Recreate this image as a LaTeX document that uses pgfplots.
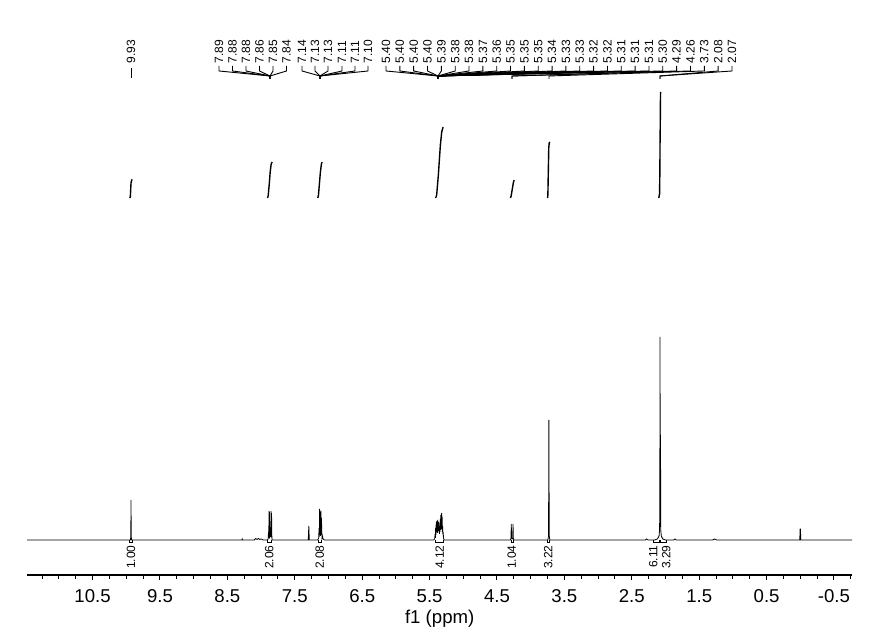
\documentclass[border=0pt]{standalone}
\usepackage{fontspec}
\setmainfont{Liberation Sans}
\usepackage{pgfplots}
\pgfplotsset{compat=1.18}
\tikzset{
  pk/.style={rotate=90, anchor=west, inner sep=0pt, font=\fontsize{6}{7}\selectfont},
  ig/.style={rotate=90, anchor=east, inner sep=0pt, font=\fontsize{6}{7}\selectfont},
  conn/.style={black, line width=0.45pt},
}
\begin{document}
\begin{tikzpicture}
\begin{axis}[
  scale only axis,
  width=412.5pt, height=287.5pt,
  x dir=reverse,
  xmin=-0.77, xmax=11.47,
  ymin=-35, ymax=540,
  axis x line=bottom, axis y line=none,
  x axis line style={-, line width=0.75pt},
  xtick={-0.5,0.5,...,10.5},
  minor xtick={-0.75,-0.5,...,11.25},
  tick align=outside,
  major tick length=2.6pt, minor tick length=2pt,
  tick style={black, line width=0.5pt},
  /pgf/number format/assume math mode=true,
  /pgf/number format/fixed, /pgf/number format/precision=1,
  ticklabel style={font=\fontsize{9.3}{10}\selectfont, yshift=-1pt},
  xlabel={f1 (ppm)},
  xlabel style={font=\fontsize{9.3}{10}\selectfont, yshift=3pt},
  ytick=\empty,
  clip=false,
]
% page extent
\path (axis cs:11.874,540) rectangle (axis cs:-1.168,-90);

% spectrum
\addplot[black, line width=0.4pt] coordinates {
(11.47,0) (10.00,0)
(9.940,0) (9.933,3) (9.930,40) (9.927,3) (9.920,0)
(8.40,0) (8.285,0) (8.280,1) (8.275,0)
(8.10,0) (8.08,1.5) (8.06,0.5) (8.04,1.5) (8.02,0.5) (8.00,1) (7.97,0)
(7.910,0) (7.895,1) (7.890,8) (7.886,2) (7.882,29) (7.879,6) (7.876,28) (7.870,3)
(7.864,4) (7.860,10) (7.856,3) (7.852,29) (7.849,6) (7.845,27) (7.840,2) (7.835,0)
(7.300,0) (7.292,14) (7.285,0)
(7.160,0) (7.145,2) (7.140,12) (7.136,3) (7.132,31) (7.128,5) (7.124,28) (7.118,4)
(7.112,29) (7.108,5) (7.104,22) (7.100,9) (7.096,2) (7.090,4) (7.080,1) (7.060,0)
(5.440,0) (5.425,1) (5.418,6) (5.414,2) (5.410,12) (5.406,5) (5.402,17) (5.398,8)
(5.395,19) (5.391,9) (5.388,16) (5.384,7) (5.380,20) (5.376,10) (5.372,15) (5.368,9)
(5.365,18) (5.361,8) (5.358,14) (5.354,6) (5.350,13) (5.346,8) (5.342,21) (5.338,10)
(5.335,25) (5.331,11) (5.328,19) (5.324,12) (5.321,27) (5.317,10) (5.314,23) (5.310,8)
(5.306,14) (5.302,5) (5.298,8) (5.294,2) (5.285,0)
(4.300,0) (4.292,2) (4.288,16) (4.284,2) (4.275,1) (4.266,2) (4.262,16) (4.258,2) (4.250,0)
(3.745,0) (3.735,4) (3.730,120) (3.725,4) (3.715,0)
(2.30,0) (2.28,1) (2.26,0)
(2.160,0) (2.120,1) (2.095,4) (2.088,10) (2.084,30) (2.081,203) (2.078,40) (2.074,105)
(2.070,10) (2.062,4) (2.040,1) (2.000,0)
(1.88,0) (1.86,1) (1.84,0)
(1.30,0) (1.27,1) (1.24,0)
(0.008,0) (0.002,11) (-0.002,11) (-0.008,0)
(-0.77,0)
};

% integral curves
\addplot[black, line width=0.7pt] coordinates {(9.950,342) (9.940,343) (9.935,350) (9.930,357) (9.920,360) (9.910,360.5)};
\addplot[black, line width=0.7pt] coordinates {(7.905,342) (7.895,344) (7.880,355) (7.865,368) (7.850,376) (7.835,378)};
\addplot[black, line width=0.7pt] coordinates {(7.160,342) (7.150,344) (7.135,356) (7.120,368) (7.105,376) (7.095,378)};
\addplot[black, line width=0.7pt] coordinates {(5.410,342) (5.395,345) (5.370,365) (5.355,380) (5.340,395) (5.320,408) (5.300,413)};
\addplot[black, line width=0.7pt] coordinates {(4.300,342) (4.290,344) (4.270,352) (4.255,358) (4.245,360)};
\addplot[black, line width=0.7pt] coordinates {(3.750,342) (3.745,345) (3.738,370) (3.732,392) (3.725,397) (3.715,398)};
\addplot[black, line width=0.7pt] coordinates {(2.100,342) (2.088,346) (2.083,370) (2.081,396) (2.080,400) (2.077,420) (2.074,446) (2.070,448)};

% integral marks and values
\foreach \a/\b/\c/\t in {9.95/9.91/9.93/1.00, 7.90/7.84/7.88/2.06, 7.15/7.10/7.13/2.08,
    5.42/5.30/5.35/4.12, 4.29/4.26/4.28/1.04, 3.745/3.715/3.74/3.22,
    2.18/2.085/2.18/6.11, 2.077/1.98/1.99/3.29} {
  \edef\tmp{\noexpand\draw[conn] (axis cs:\a,-0.5) -- (axis cs:\a,-2.5) -- (axis cs:\b,-2.5) -- (axis cs:\b,-0.5);
    \noexpand\node[ig] at (axis cs:\c,-5) {\t};}
  \tmp
}

% peak labels
\draw[conn] (axis cs:9.93,472) -- (axis cs:9.93,462);
\node[pk] at (axis cs:9.93,476) {9.93};
\foreach \lx/\tx/\px in {
  8.624/7.89/7.868, 8.424/7.88/7.868, 8.224/7.88/7.868, 8.024/7.86/7.868, 7.823/7.85/7.868, 7.623/7.84/7.868,
  7.393/7.14/7.126, 7.200/7.13/7.126, 7.007/7.13/7.126, 6.799/7.11/7.126, 6.607/7.11/7.126, 6.414/7.10/7.126,
  6.147/5.40/5.375, 5.941/5.40/5.375, 5.736/5.40/5.375, 5.531/5.40/5.375, 5.325/5.39/5.375,
  5.120/5.38/5.375, 4.915/5.38/5.375, 4.709/5.37/5.375, 4.504/5.36/5.375, 4.299/5.35/5.375,
  4.093/5.35/5.375, 3.888/5.35/5.375, 3.683/5.34/5.375, 3.477/5.33/5.375, 3.272/5.33/5.375,
  3.067/5.32/5.375, 2.861/5.32/5.375, 2.656/5.31/5.375, 2.451/5.31/5.375, 2.245/5.31/5.375,
  2.040/5.30/5.375, 1.835/4.29/4.277, 1.629/4.26/4.277, 1.424/3.73/3.728, 1.219/2.08/2.081, 1.013/2.07/2.081} {
  \edef\tmp{\noexpand\draw[conn] (axis cs:\lx,474) -- (axis cs:\lx,469) -- (axis cs:\px,464) -- (axis cs:\px,461);
    \noexpand\node[pk] at (axis cs:\lx,476) {\tx};}
  \tmp
}
\end{axis}
\end{tikzpicture}
\end{document}
